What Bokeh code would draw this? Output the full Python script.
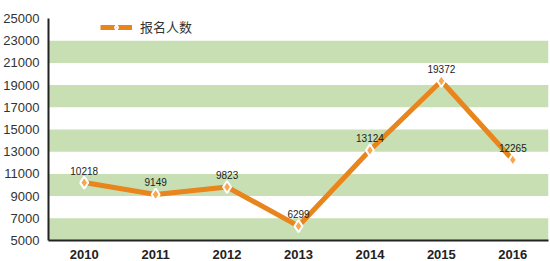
from bokeh.plotting import figure
from bokeh.models import Range1d, BoxAnnotation, FixedTicker, Legend, LegendItem, ColumnDataSource
from bokeh.core.properties import value
from bokeh.embed import file_html
from bokeh.resources import INLINE

years = ["2010", "2011", "2012", "2013", "2014", "2015", "2016"]
counts = [10218, 9149, 9823, 6299, 13124, 19372, 12265]
labels = [str(v) for v in counts]
series_name = "报名人数"
y_ticks = list(range(5000, 25001, 2000))
bands = [(5000, 7000), (9000, 11000), (13000, 15000), (17000, 19000), (21000, 23000)]

ORANGE = "#E8851C"
GREEN = "#C8DFB3"

p = figure(width=550, height=261, x_range=years, y_range=Range1d(5000, 25000),
           output_backend="svg", toolbar_location=None,
           min_border_left=48, min_border_right=2, min_border_top=18, min_border_bottom=19)
p.background_fill_color = "white"
p.border_fill_color = "white"
p.outline_line_color = None
p.xgrid.visible = False
p.ygrid.visible = False

for lo, hi in bands:
    p.add_layout(BoxAnnotation(bottom=lo, top=hi, fill_color=GREEN, fill_alpha=1.0, line_color=None, level="underlay"))

src = ColumnDataSource(dict(x=years, y=counts, t=labels))
ln = p.line("x", "y", source=src, line_color=ORANGE, line_width=5)
mk = p.scatter("x", "y", source=src, marker="diamond", size=12, fill_color="#F7A653",
               line_color="white", line_width=2)
p.text("x", "y", text="t", source=src, y_offset=-8, text_align="center", text_baseline="bottom",
       text_font=value("Liberation Sans"), text_font_size="10px", text_color="#222222")

yax = p.yaxis[0]
yax.ticker = FixedTicker(ticks=y_ticks)
yax.major_label_text_font = "Liberation Sans"
yax.major_label_text_font_size = "13px"
yax.major_label_text_color = "#333333"
yax.axis_line_color = "#222222"
yax.axis_line_width = 2
yax.major_tick_line_color = None
yax.minor_tick_line_color = None
yax.major_label_standoff = 3

xax = p.xaxis[0]
xax.major_label_text_font = "Liberation Sans"
xax.major_label_text_font_size = "13px"
xax.major_label_text_font_style = "bold"
xax.major_label_text_color = "#222222"
xax.axis_line_color = "#222222"
xax.axis_line_width = 2
xax.major_tick_line_color = None
xax.minor_tick_line_color = None
xax.major_label_standoff = 3

legend = Legend(items=[LegendItem(label=series_name, renderers=[ln, mk])],
                location=(52, 204), orientation="horizontal",
                background_fill_alpha=0, border_line_color=None,
                padding=0, margin=0, glyph_width=32, glyph_height=12,
                label_text_font="Noto Sans CJK SC", label_text_font_size="13px",
                label_text_color="#333333", label_standoff=8)
p.add_layout(legend)

open("out.html", "w").write(file_html(p, INLINE))
